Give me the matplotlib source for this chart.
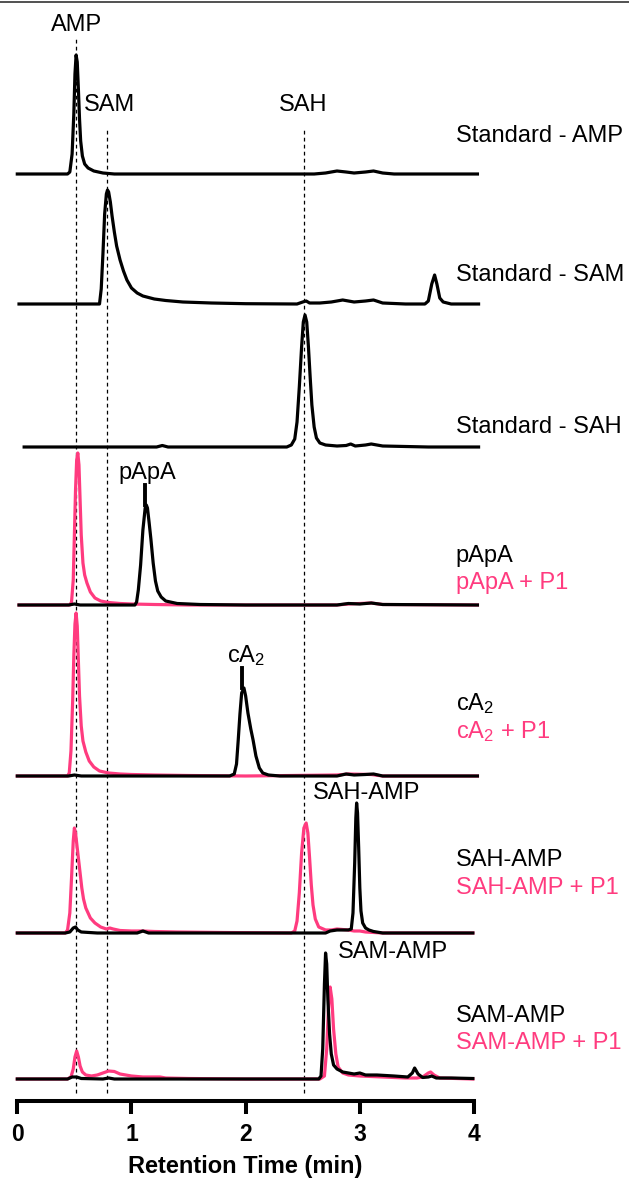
import matplotlib.pyplot as plt
from matplotlib.lines import Line2D

plt.rcParams["font.family"] = ["Liberation Sans", "DejaVu Sans"]
plt.rcParams["mathtext.default"] = "regular"

PINK = "#ff3b7f"

# retention times of the standards (min)
std_names = ["AMP", "SAM", "SAH"]
std_rt = [0.51, 0.79, 2.51]

# chromatograms: retention time (min) and signal above baseline (a.u.)
amp_t = [0.0, 0.44, 0.46, 0.48, 0.495, 0.505, 0.515, 0.525, 0.535, 0.545, 0.555, 0.57,
         0.59, 0.62, 0.67, 0.75, 0.85, 2.6, 2.7, 2.8, 2.88, 2.95, 3.05, 3.12, 3.2, 3.3, 4.03]
amp_y = [0, 0, 2, 20, 60, 100, 119, 112, 85, 55, 33, 18,
         10, 6, 3, 1, 0, 0, 1, 3, 2, 1, 2, 3, 1, 0, 0]

sam_t = [0.015, 0.72, 0.735, 0.75, 0.765, 0.78, 0.79, 0.80, 0.815, 0.83, 0.85, 0.87, 0.9,
         0.93, 0.96, 1.0, 1.05, 1.1, 1.2, 1.3, 1.45, 1.7, 2.0, 2.45, 2.5, 2.53, 2.56, 2.65,
         2.75, 2.85, 2.95, 3.05, 3.12, 3.2, 3.4, 3.57, 3.60, 3.63, 3.655, 3.675, 3.70, 3.73,
         3.8, 4.04]
sam_y = [0, 0, 15, 50, 90, 110, 114, 112, 102, 88, 72, 58, 44,
         33, 24, 16, 11, 8, 5, 3.5, 2, 1, 0.3, 0, 2, 3, 1, 1,
         2, 4, 2, 3, 4, 1, 0, 0, 3, 20, 29, 20, 6, 2,
         0, 0]

sah_t = [0.06, 1.22, 1.27, 1.32, 2.36, 2.40, 2.43, 2.45, 2.47, 2.49, 2.505, 2.52, 2.535,
         2.55, 2.565, 2.58, 2.60, 2.62, 2.65, 2.70, 2.8, 2.88, 2.92, 2.96, 3.05, 3.1, 3.2,
         3.4, 3.6, 4.04]
sah_y = [0, 0, 1.5, 0, 0, 2, 8, 25, 60, 100, 125, 132, 125,
         100, 70, 42, 20, 9, 4, 2, 1, 1.5, 3, 1, 2, 3, 1,
         0.5, 0, 0]

papa_t = [0.015, 0.45, 0.50, 0.55, 1.03, 1.045, 1.06, 1.08, 1.10, 1.12, 1.13, 1.14, 1.155,
          1.17, 1.19, 1.21, 1.23, 1.26, 1.3, 1.4, 1.6, 2.0, 2.8, 2.9, 3.0, 3.1, 3.2, 4.03]
papa_y = [0, 0, 1, 0, 0, 3, 15, 40, 75, 97, 100, 97, 82,
          66, 42, 24, 14, 8, 4, 1.5, 0.5, 0, 0, 1.5, 1, 2, 0.5, 0]
papa_p1_t = [0.015, 0.46, 0.475, 0.49, 0.50, 0.51, 0.52, 0.53, 0.54, 0.55, 0.56, 0.575, 0.59,
             0.61, 0.64, 0.68, 0.73, 0.8, 0.9, 1.0, 1.2, 1.5, 2.8, 2.9, 3.1, 3.2, 4.03]
papa_p1_y = [0, 0, 3, 25, 70, 115, 145, 152, 140, 105, 70, 42, 30,
             22, 13, 7, 4, 2.5, 1.5, 1, 0.5, 0, 0, 1, 2, 0.5, 0]

ca2_t = [0.0, 0.45, 0.50, 0.56, 1.86, 1.90, 1.92, 1.935, 1.95, 1.965, 1.985, 2.0, 2.02,
         2.045, 2.065, 2.09, 2.12, 2.15, 2.2, 2.3, 2.8, 2.88, 2.95, 3.05, 3.12, 3.2, 4.03]
ca2_y = [0, 0, 1, 0, 0, 2, 12, 36, 62, 83, 88, 80, 63,
         47, 36, 20, 8, 3, 1, 0, 0, 2, 1, 1.5, 2, 0, 0]
ca2_p1_t = [0.0, 0.44, 0.455, 0.47, 0.485, 0.495, 0.505, 0.515, 0.525, 0.535, 0.545, 0.56,
            0.575, 0.6, 0.63, 0.67, 0.72, 0.8, 0.9, 1.0, 1.2, 1.5, 2.0, 2.8, 2.9, 3.1, 3.2, 4.03]
ca2_p1_y = [0, 0, 3, 25, 75, 120, 152, 163, 150, 115, 80, 50,
            35, 24, 15, 9, 5, 3, 2, 1.5, 1, 0.5, 0, 1, 2, 1.5, 0, 0]

sahamp_t = [0.0, 0.42, 0.46, 0.49, 0.51, 0.53, 0.56, 0.7, 1.05, 1.1, 1.15, 2.7, 2.74, 2.8,
            2.85, 2.9, 2.925, 2.94, 2.955, 2.965, 2.972, 2.98, 2.99, 3.0, 3.01, 3.025, 3.05,
            3.08, 3.12, 3.2, 3.99]
sahamp_y = [0, 0, 1, 5, 6, 3, 1, 0, 0, 2, 0, 0, 2, 3,
            3, 3, 4, 20, 70, 115, 130, 120, 85, 45, 22, 10, 5,
            3, 1.5, 0, 0]
sahamp_p1_t = [0.0, 0.42, 0.44, 0.46, 0.475, 0.49, 0.50, 0.51, 0.525, 0.54, 0.55, 0.565,
               0.58, 0.6, 0.64, 0.68, 0.73, 0.78, 0.81, 0.84, 0.9, 1.0, 1.1, 1.2, 1.4, 1.8,
               2.4, 2.43, 2.45, 2.47, 2.49, 2.51, 2.53, 2.545, 2.56, 2.575, 2.59, 2.61, 2.64,
               2.7, 2.75, 2.8, 2.85, 2.9, 2.95, 3.0, 3.05, 3.2, 3.99]
sahamp_p1_y = [0, 0, 3, 20, 55, 92, 105, 100, 85, 70, 60, 45,
               34, 25, 15, 10, 6, 4, 5, 4, 2.5, 2, 2, 1.5, 1, 0.5,
               0, 2, 12, 40, 80, 105, 110, 100, 75, 48, 28, 14, 6,
               3, 3, 4, 3.5, 3, 2, 2, 1, 0, 0]

samamp_t = [0.0, 0.44, 0.48, 0.52, 0.56, 0.75, 0.8, 0.85, 2.64, 2.66, 2.675, 2.69, 2.70,
            2.71, 2.72, 2.735, 2.75, 2.77, 2.80, 2.85, 2.9, 2.95, 3.0, 3.05, 3.15, 3.3, 3.42,
            3.46, 3.48, 3.51, 3.55, 3.6, 3.63, 3.67, 3.8, 3.99]
samamp_y = [0, 0, 2, 2, 0.5, 0, 1, 0, 0, 3, 30, 95, 126,
            115, 80, 45, 25, 14, 10, 7, 6, 5, 6, 4, 4, 3, 2,
            6, 11, 5, 1.5, 2, 3, 1, 1, 0.5]
samamp_p1_t = [0.0, 0.44, 0.47, 0.49, 0.505, 0.52, 0.535, 0.55, 0.57, 0.6, 0.65, 0.7, 0.75,
               0.8, 0.85, 0.9, 1.0, 1.1, 1.25, 1.3, 1.5, 2.0, 2.65, 2.69, 2.71, 2.725, 2.74,
               2.755, 2.77, 2.79, 2.81, 2.85, 2.9, 3.0, 3.2, 3.4, 3.5, 3.55, 3.60, 3.62, 3.65,
               3.7, 3.99]
samamp_p1_y = [0, 0, 2, 10, 22, 28, 22, 13, 7, 4, 3, 4, 6,
               8, 7.5, 5, 3, 2, 2, 1, 0.5, 0, 0, 3, 30, 70, 92,
               80, 50, 25, 12, 6, 4, 3, 2, 1, 1, 2, 6, 7, 4,
               1, 0]

# (black trace, pink trace, right-hand labels)
traces = [
    ((amp_t, amp_y), None, ["Standard - AMP"]),
    ((sam_t, sam_y), None, ["Standard - SAM"]),
    ((sah_t, sah_y), None, ["Standard - SAH"]),
    ((papa_t, papa_y), (papa_p1_t, papa_p1_y), ["pApA", "pApA + P1"]),
    ((ca2_t, ca2_y), (ca2_p1_t, ca2_p1_y), ["cA$_2$", "cA$_2$ + P1"]),
    ((sahamp_t, sahamp_y), (sahamp_p1_t, sahamp_p1_y), ["SAH-AMP", "SAH-AMP + P1"]),
    ((samamp_t, samamp_y), (samamp_p1_t, samamp_p1_y), ["SAM-AMP", "SAM-AMP + P1"]),
]

# ---- layout (pixel rows of the 629x1180 canvas) ----
W, H = 629, 1180
axis_row = 1101
baseline_rows = [174, 304, 447, 605, 776, 933, 1079]
label_rows = [[136], [275], [427], [556, 583], [704, 732], [860, 888], [1016, 1043]]
label_x = 3.84


def row(r):
    return axis_row - r


fig = plt.figure(figsize=(W / 100, H / 100), dpi=100)
ax = fig.add_axes([17.3 / W, (H - axis_row) / H, 456.7 / W, axis_row / H])
ax.set_xlim(0, 4)
ax.set_ylim(0, axis_row)

# dashed guides at the standards' retention times
tops = [37, 129, 129]
for rt, top in zip(std_rt, tops):
    ax.plot([rt, rt], [row(1093), row(top)], color="black", lw=0.9,
            ls=(0, (3.0, 2.6)), zorder=1)

for (blk, pnk, labels), base, rows in zip(traces, baseline_rows, label_rows):
    off = row(base)
    if pnk is not None:
        ax.plot(pnk[0], [v + off for v in pnk[1]], color=PINK, lw=2.3,
                solid_joinstyle="round", clip_on=False, zorder=2)
    ax.plot(blk[0], [v + off for v in blk[1]], color="black", lw=2.3,
            solid_joinstyle="round", clip_on=False, zorder=3)
    colors = ["black", PINK]
    for txt, r, c in zip(labels, rows, colors):
        ax.text(label_x, row(r), txt, color=c, fontsize=17, ha="left",
                va="center", clip_on=False)

# standard peak labels
ax.text(0.52, row(25), std_names[0], fontsize=17, ha="center", va="center")
ax.text(0.81, row(105), std_names[1], fontsize=17, ha="center", va="center")
ax.text(2.50, row(105), std_names[2], fontsize=17, ha="center", va="center")

# product peak labels with marker ticks
ax.text(1.14, row(473), "pApA", fontsize=17, ha="center", va="center")
ax.plot([1.12, 1.12], [row(505), row(485)], color="black", lw=2.8)
ax.text(2.0, row(656), "cA$_2$", fontsize=17, ha="center", va="center")
ax.plot([1.965, 1.965], [row(688), row(668)], color="black", lw=2.8)
ax.text(3.06, row(793), "SAH-AMP", fontsize=17, ha="center", va="center")
ax.text(3.29, row(952), "SAM-AMP", fontsize=17, ha="center", va="center")

for s in ["left", "right", "top"]:
    ax.spines[s].set_visible(False)
ax.spines["bottom"].set_linewidth(2.9)
ax.set_yticks([])
ax.set_xticks([0, 1, 2, 3, 4])
ax.tick_params(axis="x", length=9, width=2.9, pad=7, labelsize=16.5)
for lab in ax.get_xticklabels():
    lab.set_fontweight("bold")
ax.set_xlabel("Retention Time (min)", fontsize=17, fontweight="bold", labelpad=6)

# thin frame line along the top edge
fig.add_artist(Line2D([0, 1], [1 - 2 / H, 1 - 2 / H], color="#333333", lw=1.2))

fig.savefig("out.png", dpi=100)
